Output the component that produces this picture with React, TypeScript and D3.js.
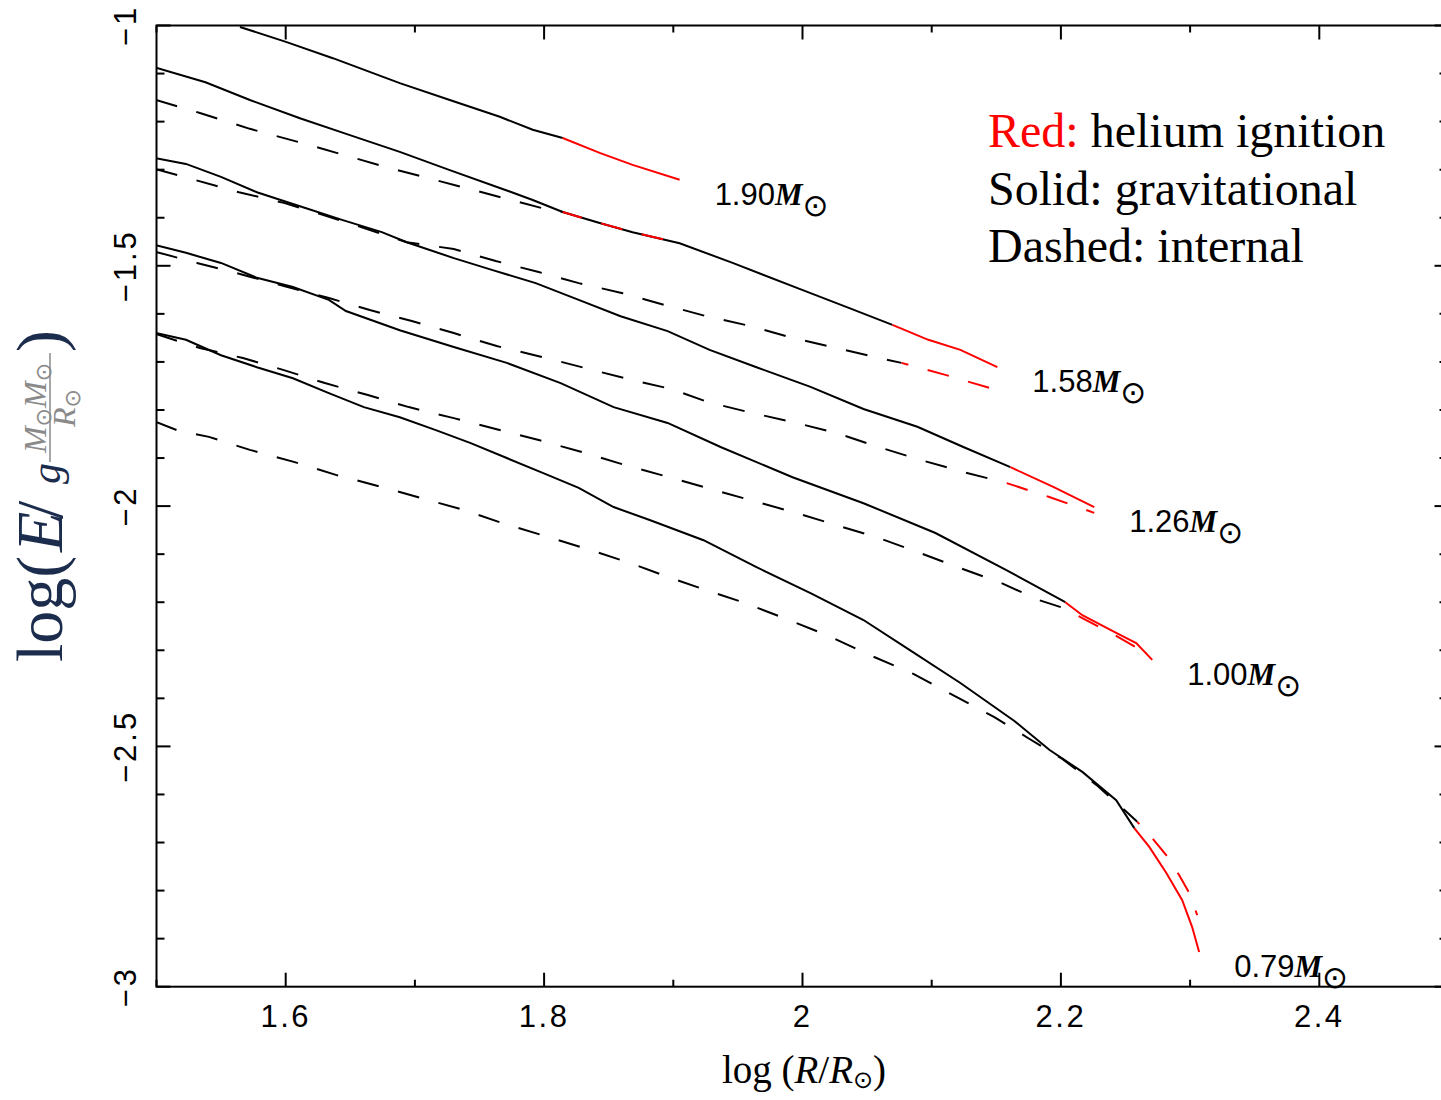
import React from "react";
import * as d3 from "d3";

type P = [number, number];

const W = 1441;
const H = 1100;

// ---- data (log R/Rsun, log E) ----
const massLabels = ["1.90", "1.58", "1.26", "1.00", "0.79"];

const grav190: P[] = [
  [1.5646, -1.003], [1.6002, -1.034], [1.6365, -1.068], [1.6883, -1.12], [1.727, -1.155],
  [1.7657, -1.19], [1.7912, -1.217], [1.8144, -1.234], [1.843, -1.265], [1.8685, -1.29], [1.9049, -1.321],
];
const int190: P[] = [
  [1.4996, -1.155], [1.5336, -1.182], [1.5723, -1.215], [1.6133, -1.245], [1.6458, -1.27],
  [1.6783, -1.295], [1.7038, -1.313], [1.7363, -1.336], [1.7688, -1.359], [1.8012, -1.382],
  [1.8144, -1.388], [1.843, -1.411], [1.8685, -1.43], [1.9049, -1.453],
];
const grav158: P[] = [
  [1.4996, -1.088], [1.5379, -1.118], [1.5723, -1.155], [1.611, -1.193], [1.6497, -1.228],
  [1.6883, -1.263], [1.727, -1.301], [1.7657, -1.338], [1.7912, -1.363], [1.8144, -1.388],
  [1.843, -1.411], [1.8685, -1.43], [1.9049, -1.453], [1.9459, -1.494], [1.9977, -1.548],
  [2.0363, -1.588], [2.0696, -1.623], [2.0974, -1.654], [2.1222, -1.675], [2.1508, -1.711],
];
const int158: P[] = [
  [1.4996, -1.299], [1.5306, -1.322], [1.5638, -1.347], [1.5986, -1.369], [1.6442, -1.407],
  [1.6937, -1.451], [1.7301, -1.465], [1.7626, -1.49], [1.7958, -1.513], [1.8268, -1.536],
  [1.8608, -1.557], [1.894, -1.582], [1.9258, -1.605], [1.959, -1.625], [1.9923, -1.65],
  [2.0263, -1.671], [2.0596, -1.692], [2.0766, -1.702], [2.1106, -1.727], [2.1508, -1.759],
];
const grav126: P[] = [
  [1.4996, -1.276], [1.5228, -1.288], [1.5499, -1.315], [1.5777, -1.347], [1.611, -1.376],
  [1.6442, -1.405], [1.6744, -1.43], [1.6937, -1.451], [1.7301, -1.484], [1.7602, -1.509],
  [1.7935, -1.536], [1.8268, -1.571], [1.8592, -1.605], [1.8956, -1.636], [1.9281, -1.675],
  [1.9644, -1.711], [2.0062, -1.752], [2.0472, -1.798], [2.0889, -1.835], [2.1245, -1.877],
  [2.1609, -1.919], [2.1941, -1.96], [2.2258, -2.002],
];
const int126: P[] = [
  [1.4996, -1.471], [1.5313, -1.494], [1.5646, -1.517], [1.5986, -1.542], [1.6334, -1.567],
  [1.6651, -1.592], [1.6976, -1.615], [1.7301, -1.64], [1.7633, -1.667], [1.7989, -1.69],
  [1.8322, -1.713], [1.8654, -1.736], [1.8979, -1.756], [1.9273, -1.784], [1.9606, -1.806],
  [1.9923, -1.825], [2.0263, -1.848], [2.0588, -1.877], [2.0913, -1.904], [2.1245, -1.929],
  [2.1578, -1.952], [2.191, -1.981], [2.2258, -2.014],
];
const grav100: P[] = [
  [1.4996, -1.457], [1.5228, -1.473], [1.5499, -1.494], [1.5777, -1.525], [1.6056, -1.544],
  [1.6334, -1.571], [1.6466, -1.594], [1.6883, -1.634], [1.7301, -1.669], [1.7711, -1.702],
  [1.8128, -1.744], [1.8538, -1.794], [1.8956, -1.827], [1.9366, -1.877], [1.9923, -1.94],
  [2.0472, -1.994], [2.1029, -2.056], [2.1578, -2.133], [2.2034, -2.2], [2.2166, -2.227],
  [2.2428, -2.264], [2.2583, -2.285], [2.2707, -2.32],
];
const int100: P[] = [
  [1.4996, -1.642], [1.5336, -1.671], [1.5669, -1.692], [1.5986, -1.717], [1.6303, -1.744],
  [1.6636, -1.769], [1.6953, -1.794], [1.7301, -1.817], [1.7633, -1.84], [1.7966, -1.863],
  [1.8299, -1.888], [1.8631, -1.915], [1.8956, -1.939], [1.9258, -1.962], [1.959, -1.987],
  [1.9923, -2.012], [2.0255, -2.039], [2.0588, -2.066], [2.0913, -2.098], [2.1222, -2.129],
  [2.1539, -2.16], [2.1825, -2.195], [2.2019, -2.212], [2.2166, -2.233], [2.2428, -2.27],
  [2.2684, -2.31],
];
const grav079: P[] = [
  [1.4996, -1.64], [1.5228, -1.654], [1.5499, -1.686], [1.5777, -1.711], [1.6056, -1.734],
  [1.6334, -1.765], [1.6605, -1.794], [1.6883, -1.815], [1.7162, -1.842], [1.7432, -1.869],
  [1.7711, -1.9], [1.7989, -1.931], [1.8268, -1.962], [1.8538, -2.002], [1.8817, -2.029],
  [1.9234, -2.071], [1.9644, -2.127], [2.0062, -2.181], [2.0472, -2.237], [2.0828, -2.299],
  [2.1222, -2.368], [2.164, -2.447], [2.191, -2.507], [2.2166, -2.553], [2.2428, -2.612],
  [2.2568, -2.67], [2.2684, -2.709], [2.2815, -2.763], [2.2939, -2.82], [2.3016, -2.876],
  [2.307, -2.928],
];
const int079: P[] = [
  [1.4996, -1.825], [1.5158, -1.842], [1.5406, -1.856], [1.5723, -1.883], [1.6063, -1.908],
  [1.6388, -1.935], [1.6713, -1.958], [1.7046, -1.983], [1.7378, -2.008], [1.7695, -2.037],
  [1.8028, -2.064], [1.8353, -2.091], [1.8662, -2.118], [1.8933, -2.145], [1.9234, -2.173],
  [1.9559, -2.202], [1.9876, -2.235], [2.0201, -2.27], [2.0503, -2.308], [2.0858, -2.349],
  [2.1176, -2.395], [2.1485, -2.439], [2.1748, -2.483], [2.2011, -2.526], [2.2274, -2.58],
  [2.249, -2.632], [2.2591, -2.657], [2.2707, -2.691], [2.2815, -2.726], [2.2916, -2.768],
  [2.2993, -2.805], [2.3055, -2.851],
];

const gravitational = [grav190, grav158, grav126, grav100, grav079];
const internal = [int190, int158, int126, int100, int079];
// log R at which helium ignition (red) begins
const heIgnitionGrav = [1.8144, 2.0696, 2.1609, 2.2034, 2.2568];
const heIgnitionInt = [1.8144, 2.0766, 2.1578, 2.2019, 2.2591];

const xMajorTicks = [1.6, 1.8, 2.0, 2.2, 2.4];
const xTickLabels = ["1.6", "1.8", "2", "2.2", "2.4"];
const yMajorTicks = [-1, -1.5, -2, -2.5, -3];
const yTickLabels = ["\u22121", "\u22121.5", "\u22122", "\u22122.5", "\u22123"];

const legendLines = [
  { key: "Red:", rest: " helium ignition", color: "#ff0000" },
  { key: "Solid:", rest: " gravitational", color: "#000" },
  { key: "Dashed:", rest: " internal", color: "#000" },
];

// ---- layout ----
const PL = 156.5, PR = 1448.5, PT = 25.5, PB = 986.7;
const x = d3.scaleLinear().domain([1.5, 2.5]).range([PL, PR]);
const y = d3.scaleLinear().domain([-1, -3]).range([PT, PB]);
const line = d3.line<P>().x((d) => x(d[0])).y((d) => y(d[1]));

const RED = "#ff0000";
const DASH = "22 20";
const DASH_PERIOD = 42;

function splitAt(pts: P[], t: number) {
  const black = pts.filter((p) => p[0] <= t + 1e-9);
  const red = pts.filter((p) => p[0] >= t - 1e-9);
  return { black, red };
}
function pixLen(pts: P[]) {
  let L = 0;
  for (let i = 1; i < pts.length; i++) {
    L += Math.hypot(x(pts[i][0]) - x(pts[i - 1][0]), y(pts[i][1]) - y(pts[i - 1][1]));
  }
  return L;
}

const FONT_SANS = "'Liberation Sans', Arial, Helvetica, sans-serif";
const FONT_SERIF = "'Liberation Serif', 'Times New Roman', Times, serif";
const FONT_SYM = "'DejaVu Sans', sans-serif";
const NAVY = "#1c2c4c";
const GREY = "#8a8a8a";

export default function App() {
  const xMinor = d3.range(15, 25).map((v) => v / 10).filter((v) => !xMajorTicks.some((m) => Math.abs(m - v) < 1e-6));
  const yMinor = d3.range(-30, -9).map((v) => v / 10).filter((v) => !yMajorTicks.some((m) => Math.abs(m - v) < 1e-6));

  const blackPaths: JSX.Element[] = [];
  const redPaths: JSX.Element[] = [];
  gravitational.forEach((pts, i) => {
    const { black, red } = splitAt(pts, heIgnitionGrav[i]);
    blackPaths.push(<path key={"gb" + i} d={line(black) || ""} fill="none" stroke="#000" strokeWidth={2} />);
    redPaths.push(<path key={"gr" + i} d={line(red) || ""} fill="none" stroke={RED} strokeWidth={2} />);
  });
  internal.forEach((pts, i) => {
    const { black, red } = splitAt(pts, heIgnitionInt[i]);
    const off = pixLen(black) % DASH_PERIOD;
    blackPaths.push(
      <path key={"ib" + i} d={line(black) || ""} fill="none" stroke="#000" strokeWidth={2} strokeDasharray={DASH} />
    );
    redPaths.push(
      <path key={"ir" + i} d={line(red) || ""} fill="none" stroke={RED} strokeWidth={2} strokeDasharray={DASH} strokeDashoffset={off} />
    );
  });

  return (
    <svg width={W} height={H} style={{ position: "absolute", left: 0, top: 0, background: "#fff" }}>
      <defs>
        <clipPath id="plotclip">
          <rect x={PL} y={PT} width={PR - PL} height={PB - PT} />
        </clipPath>
      </defs>
      <rect x={0} y={0} width={W} height={H} fill="#fff" />

      {/* curves */}
      <g clipPath="url(#plotclip)">
        {blackPaths}
        {redPaths}
      </g>

      {/* frame */}
      <rect x={PL} y={PT} width={PR - PL} height={PB - PT} fill="none" stroke="#000" strokeWidth={2} />

      {/* ticks */}
      <g stroke="#000" strokeWidth={2}>
        {xMajorTicks.map((v) => (
          <g key={"xm" + v}>
            <line x1={x(v)} x2={x(v)} y1={PB} y2={PB - 14} />
            <line x1={x(v)} x2={x(v)} y1={PT} y2={PT + 14} />
          </g>
        ))}
        {xMinor.map((v) => (
          <g key={"xn" + v}>
            <line x1={x(v)} x2={x(v)} y1={PB} y2={PB - 7} />
            <line x1={x(v)} x2={x(v)} y1={PT} y2={PT + 7} />
          </g>
        ))}
        {yMajorTicks.map((v) => (
          <g key={"ym" + v}>
            <line x1={PL} x2={PL + 14} y1={y(v)} y2={y(v)} />
            <line x1={PR} x2={PR - 14} y1={y(v)} y2={y(v)} />
          </g>
        ))}
        {yMinor.map((v) => (
          <g key={"yn" + v}>
            <line x1={PL} x2={PL + 8} y1={y(v)} y2={y(v)} />
            <line x1={PR} x2={PR - 9} y1={y(v)} y2={y(v)} />
          </g>
        ))}
      </g>

      {/* tick labels */}
      {xMajorTicks.map((v, i) => (
        <text key={"xl" + v} x={x(v)} y={1027} textAnchor="middle" fontFamily={FONT_SANS} fontSize={31} letterSpacing={2.5}>
          {xTickLabels[i]}
        </text>
      ))}
      {yMajorTicks.map((v, i) => (
        <text
          key={"yl" + v}
          x={136}
          y={y(v)}
          transform={`rotate(-90, 136, ${y(v)})`}
          textAnchor="middle"
          fontFamily={FONT_SANS}
          fontSize={31}
          letterSpacing={3}
        >
          {yTickLabels[i]}
        </text>
      ))}

      {/* mass labels at end of gravitational curves */}
      {gravitational.map((pts, i) => {
        const last = pts[pts.length - 1];
        return (
          <text key={"ml" + i} x={x(last[0]) + 35} y={y(last[1]) + 25} fontFamily={FONT_SANS} fontSize={31}>
            {massLabels[i]}
            <tspan fontFamily={FONT_SERIF} fontStyle="italic" fontWeight="bold">M</tspan>
            <tspan fontFamily={FONT_SYM} fontSize={31} dy={11}>{"\u2299"}</tspan>
          </text>
        );
      })}

      {/* legend */}
      {legendLines.map((l, i) => (
        <text key={"lg" + i} x={988} y={147 + i * 57.5} fontFamily={FONT_SERIF} fontSize={48}>
          <tspan fill={l.color}>{l.key}</tspan>
          <tspan fill="#000">{l.rest}</tspan>
        </text>
      ))}

      {/* x axis title */}
      <text x={804} y={1083} textAnchor="middle" fontFamily={FONT_SERIF} fontSize={39}>
        log (<tspan fontStyle="italic">R</tspan>/<tspan fontStyle="italic">R</tspan>
        <tspan fontFamily={FONT_SYM} fontSize={24} dy={5}>{"\u2299"}</tspan>
        <tspan dy={-5}>)</tspan>
      </text>

      {/* y axis title */}
      <g transform="translate(62,662) rotate(-90)" fontFamily={FONT_SERIF}>
        <text x={0} y={0} fontSize={66} fill={NAVY}>log(</text>
        <text x={110} y={0} fontSize={66} fill={NAVY} fontStyle="italic">E</text>
        <text x={143} y={0} fontSize={66} fill={NAVY}>/</text>
        <text x={178} y={-2} fontSize={42} fill={NAVY} fontStyle="italic">g</text>
        <line x1={200} x2={309} y1={-12} y2={-12} stroke={GREY} strokeWidth={1.5} />
        <text x={254} y={-16} textAnchor="middle" fontSize={32} fill={GREY} fontStyle="italic">
          M<tspan fontStyle="normal" fontFamily={FONT_SYM} fontSize={22} dy={5}>{"\u2299"}</tspan>
          <tspan dy={-5}>M</tspan>
          <tspan fontStyle="normal" fontFamily={FONT_SYM} fontSize={22} dy={5}>{"\u2299"}</tspan>
        </text>
        <text x={254} y={13} textAnchor="middle" fontSize={32} fill={GREY} fontStyle="italic">
          R<tspan fontStyle="normal" fontFamily={FONT_SYM} fontSize={22} dy={5}>{"\u2299"}</tspan>
        </text>
        <text x={310} y={0} fontSize={66} fill={NAVY}>)</text>
      </g>
    </svg>
  );
}
